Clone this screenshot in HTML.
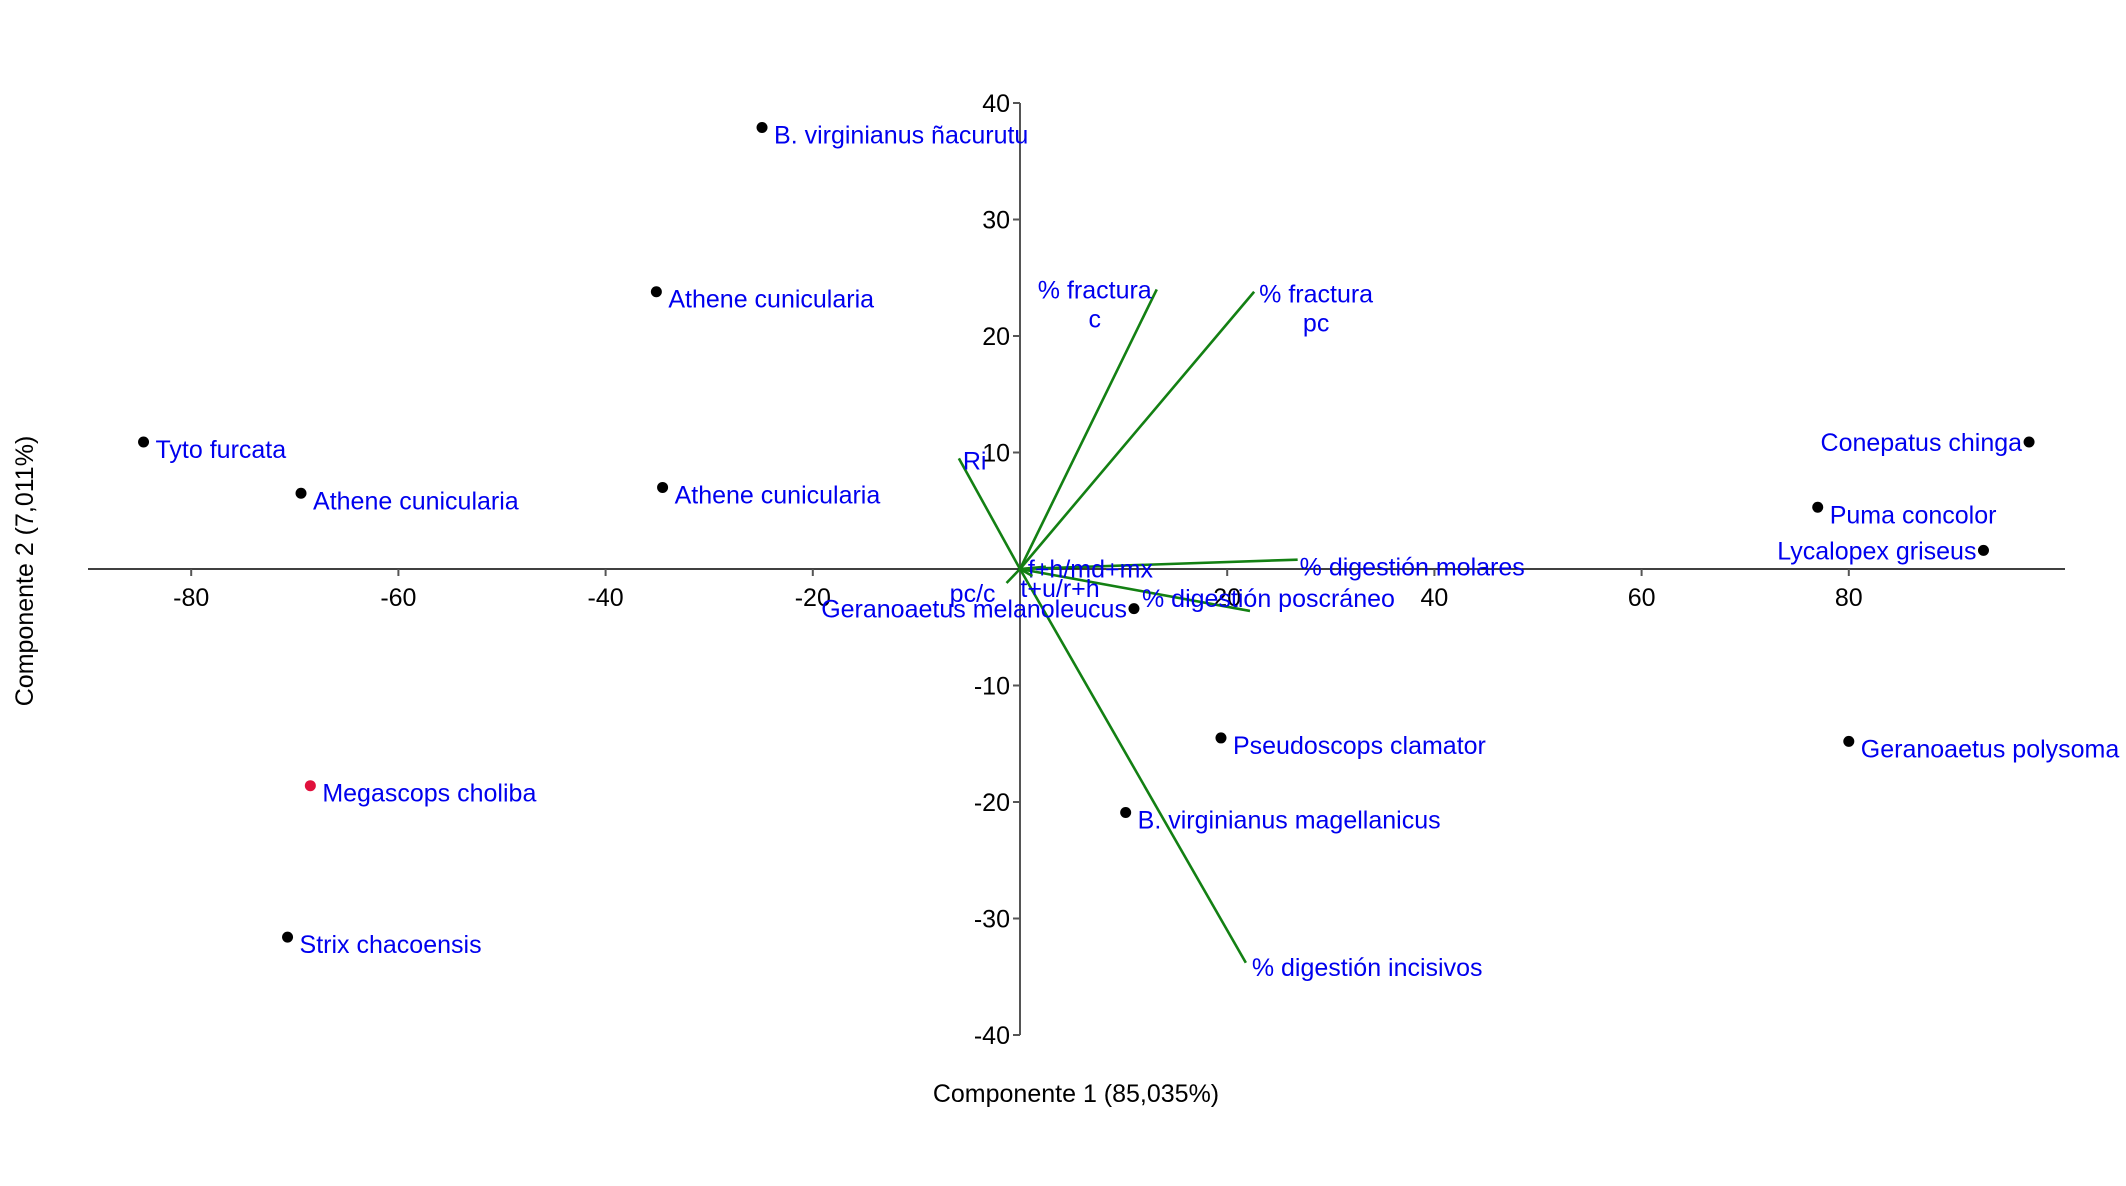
<!DOCTYPE html>
<html><head><meta charset="utf-8"><style>
body{margin:0;background:#fff;}
svg text{font-family:"Liberation Sans",sans-serif;}
</style></head><body>
<svg id="chart" width="2126" height="1181" xmlns="http://www.w3.org/2000/svg"></svg>
<script>
const xTicks=[-80,-60,-40,-20,20,40,60,80];
const yTicks=[40,30,20,10,-10,-20,-30,-40];
const pointNames=["B. virginianus ñacurutu","Athene cunicularia","Tyto furcata","Athene cunicularia","Athene cunicularia","Megascops choliba","Strix chacoensis","Geranoaetus melanoleucus","Pseudoscops clamator","B. virginianus magellanicus","Geranoaetus polysoma","Conepatus chinga","Puma concolor","Lycalopex griseus"];
const pointX=[-24.9,-35.1,-84.6,-69.4,-34.5,-68.5,-70.7,11.0,19.4,10.2,80.0,97.4,77.0,93.0];
const pointY=[37.9,23.8,10.9,6.5,7.0,-18.6,-31.6,-3.4,-14.5,-20.9,-14.8,10.9,5.3,1.6];
const pointColor=["#000","#000","#000","#000","#000","#e0103c","#000","#000","#000","#000","#000","#000","#000","#000"];
const pointAnchor=["start","start","start","start","start","start","start","end","start","start","start","end","start","end"];
const vecNames=["% fractura|c","% fractura|pc","Ri","% digestión molares","% digestión poscráneo","% digestión incisivos","pc/c","f+h/md+mx","t+u/r+h"];
const vecX=[13.2,22.6,-5.9,26.8,22.2,21.8,-1.3,2.5,1.2];
const vecY=[24.0,23.8,9.5,0.8,-3.6,-33.8,-1.2,0.2,-0.6];
const ox=1020, oy=569, ux=10.36, uy=11.65;
const sx=v=>ox+v*ux, sy=v=>oy-v*uy;
const svg=document.getElementById('chart');
const NS='http://www.w3.org/2000/svg';
function mk(tag,attrs,parent){const e=document.createElementNS(NS,tag);for(const k in attrs)e.setAttribute(k,attrs[k]);(parent||svg).appendChild(e);return e;}
let ax=mk('line',{x1:88,y1:oy,x2:2065,y2:oy,stroke:'#000','stroke-width':1.6});


let ay=mk('line',{x1:ox,y1:sy(40),x2:ox,y2:sy(-40),stroke:'#555','stroke-width':2});


xTicks.forEach(t=>{
  mk('line',{x1:sx(t),y1:oy,x2:sx(t),y2:oy+7,stroke:'#555','stroke-width':2});
  const tx=mk('text',{x:sx(t),y:oy+37,'text-anchor':'middle','font-size':25,fill:'#000'});
  tx.textContent=t;
  
  
});
yTicks.forEach(t=>{
  mk('line',{x1:ox-7,y1:sy(t),x2:ox,y2:sy(t),stroke:'#555','stroke-width':2});
  const tx=mk('text',{x:ox-10,y:sy(t)+9,'text-anchor':'end','font-size':25,fill:'#000'});
  tx.textContent=t;
  
  
});
// label offsets relative to vector end (px)
const vOff=[[0,0],[0,0],[4,11],[2,16],[-108,-4],[6,13],[-11,19],[-18,11],[-12,21]];
vecNames.forEach((n,i)=>{
  const l=mk('line',{x1:ox,y1:oy,x2:sx(vecX[i]),y2:sy(vecY[i]),stroke:'#138013','stroke-width':2.6});
  
  
  const parts=n.split('|');
  const ex=sx(vecX[i]), ey=sy(vecY[i]);
  let anchor='start';
  if(i===6) anchor='end';
  if(parts.length===2){
    const cx=(i===0)?ex-62:ex+62;
    const by=(i===0)?ey+9:ey+11;
    parts.forEach((p,j)=>{
      const t=mk('text',{x:cx,y:by+j*29,'text-anchor':'middle','font-size':25,fill:'#0000ee'});
      t.textContent=p;
      
      
    });
  } else {
    const t=mk('text',{x:ex+vOff[i][0],y:ey+vOff[i][1],'text-anchor':anchor,'font-size':25,fill:'#0000ee'});
    t.textContent=n;
    
    
  }
});
pointNames.forEach((n,i)=>{
  const px=sx(pointX[i]), py=sy(pointY[i]);
  const c=mk('circle',{cx:px,cy:py,r:5.5,fill:pointColor[i]});
  
  
  const start=pointAnchor[i]==='start';
  const t=mk('text',{x:px+(start?12:-7),y:py+(start?16:9),'text-anchor':pointAnchor[i],'font-size':25,fill:'#0000ee'});
  t.textContent=n;
  
  
});
const xt=mk('text',{x:1076,y:1102,'text-anchor':'middle','font-size':25,fill:'#000'});
xt.textContent='Componente 1 (85,035%)';


const yt=mk('text',{x:0,y:0,'text-anchor':'middle','font-size':25,fill:'#000',transform:'translate(33,571) rotate(-90)'});
yt.textContent='Componente 2 (7,011%)';


</script>
</body></html>
